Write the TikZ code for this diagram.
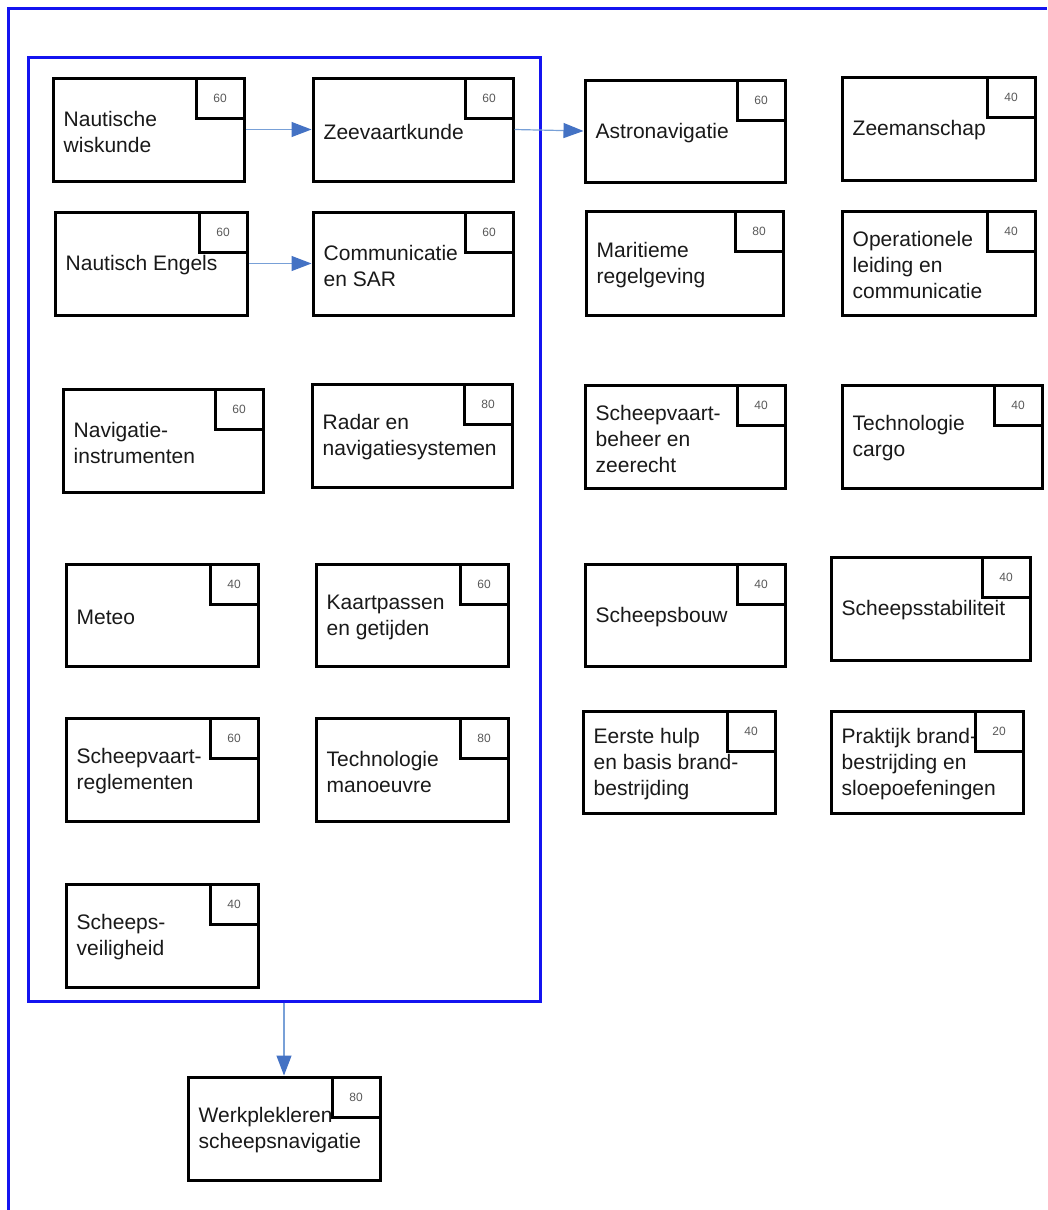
\documentclass[tikz,border=0pt]{standalone}
\usepackage{fontspec}
\setmainfont{Liberation Sans}
\usetikzlibrary{arrows.meta,fit,positioning}
\definecolor{frameblue}{RGB}{20,20,240}
\definecolor{arrowblue}{RGB}{68,114,196}
\definecolor{lineblue}{RGB}{120,160,215}
\tikzset{
  coursebox/.style={draw=black,line width=3pt,inner sep=0pt,fill=white},
  coursetext/.style={inner sep=0pt,align=left,anchor=west,text=black!90,
    font=\fontsize{21}{26}\selectfont},
  badge/.style={draw=black,line width=3pt,fill=white,minimum width=48pt,
    minimum height=40pt,inner sep=0pt,anchor=north east,text=black!65,
    font=\fontsize{12}{14}\selectfont},
  groupbox/.style={draw=frameblue,line width=3pt,inner sep=0pt},
  frameline/.style={draw=frameblue,line width=3pt},
  link/.style={draw=lineblue,line width=1.2pt,
    -{Triangle[length=20pt,width=15pt,fill=arrowblue,color=arrowblue]}},
}
\newcommand\course[7]{%
  \node[coursebox,fit={(#2,#3) (#4,#5)}] (#1) {};
  \node[coursetext] (#1-t) at ([xshift=12pt,yshift=-2pt]#1.west) {#6};
  \node[badge] (#1-b) at (#1.north east) {#7};
}
\begin{document}
\begin{tikzpicture}[x=1pt,y=-1pt]
\useasboundingbox (0,0) rectangle (1047,1210);
\fill[white] (0,0) rectangle (1047,1210);
\draw[frameline] (8,1210) -- (8,8) -- (1047,8);
\node[groupbox,fit={(28,57) (540,1001)}] (grp) {};

\course{nw}{53}{78}{244}{181}{Nautische\\wiskunde}{60}
\course{zk}{313}{78}{513}{181}{Zeevaartkunde}{60}
\course{an}{585}{80}{785}{182}{Astronavigatie}{60}
\course{zm}{842}{77}{1035}{180}{Zeemanschap}{40}
\course{ne}{55}{212}{247}{315}{Nautisch Engels}{60}
\course{cs}{313}{212}{513}{315}{Communicatie\\en SAR}{60}
\course{mr}{586}{211}{783}{315}{Maritieme\\regelgeving}{80}
\course{ol}{842}{211}{1035}{315}{Operationele\\leiding en\\communicatie}{40}
\course{ni}{63}{389}{263}{492}{Navigatie-\\instrumenten}{60}
\course{rn}{312}{384}{512}{487}{Radar en\\navigatiesystemen}{80}
\course{sb}{585}{385}{785}{488}{Scheepvaart-\\beheer en\\zeerecht}{40}
\course{tc}{842}{385}{1042}{488}{Technologie\\cargo}{40}
\course{me}{66}{564}{258}{666}{Meteo}{40}
\course{kg}{316}{564}{508}{666}{Kaartpassen\\en getijden}{60}
\course{sbw}{585}{564}{785}{666}{Scheepsbouw}{40}
\course{ss}{831}{557}{1030}{660}{Scheepsstabiliteit}{40}
\course{sr}{66}{718}{258}{821}{Scheepvaart-\\reglementen}{60}
\course{tm}{316}{718}{508}{821}{Technologie\\manoeuvre}{80}
\course{eh}{583}{711}{775}{813}{Eerste hulp\\en basis brand-\\bestrijding}{40}
\course{pb}{831}{711}{1023}{813}{Praktijk brand-\\bestrijding en\\sloepoefeningen}{20}
\course{sv}{66}{884}{258}{987}{Scheeps-\\veiligheid}{40}
\course{wp}{188}{1077}{380}{1180}{Werkplekleren\\scheepsnavigatie}{80}

\draw[link] (nw.east) -- (zk.west);
\draw[link] (zk.east) -- (an.west);
\draw[link] (ne.east) -- (cs.west);
\draw[link] (grp.south -| wp.north) -- (wp.north);
\end{tikzpicture}
\end{document}
